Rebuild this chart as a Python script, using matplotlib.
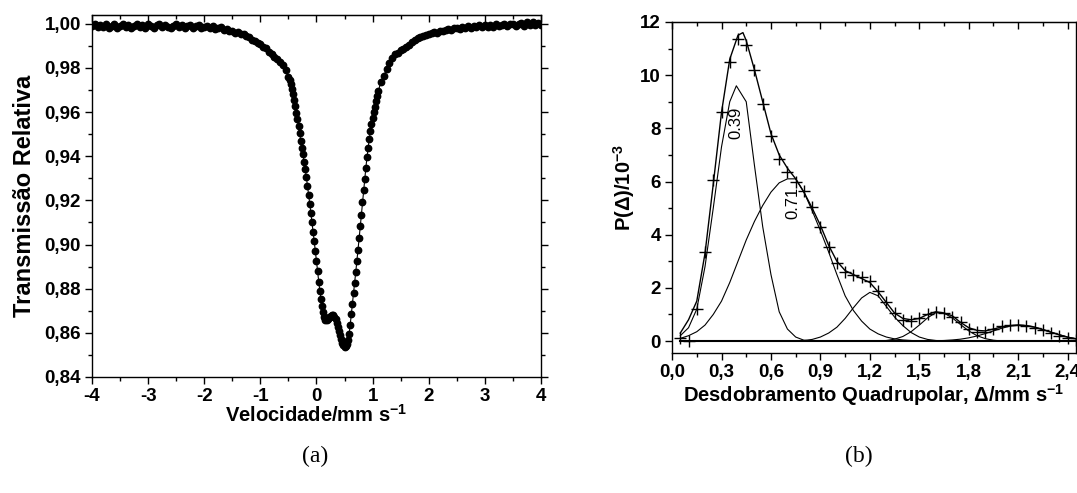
import numpy as np
import matplotlib
matplotlib.use("Agg")
import matplotlib.pyplot as plt
from matplotlib.ticker import MultipleLocator, FuncFormatter

plt.rcParams['font.family'] = ['Liberation Sans', 'DejaVu Sans']
plt.rcParams['mathtext.fontset'] = 'custom'
plt.rcParams['mathtext.rm'] = 'Liberation Sans:bold'
plt.rcParams['mathtext.default'] = 'rm'

# ---- (a) espectro Mossbauer ----
vel_left = np.round(np.arange(-4.0, -0.549, 0.05), 3)
trans_left = [0.9990, 0.9998, 0.9984, 0.9995, 0.9987, 0.9997, 0.9983, 0.9992, 0.9999, 0.9982,
              0.9991, 0.9997, 0.9984, 0.9996, 0.9982, 0.9992, 0.9998, 0.9986, 0.9995, 0.9983,
              0.9997, 0.9989, 0.9981, 0.9993, 0.9999, 0.9984, 0.9995, 0.9987, 0.9980, 0.9991,
              0.9997, 0.9984, 0.9993, 0.9982, 0.9990, 0.9996, 0.9981, 0.9988, 0.9993, 0.9979,
              0.9987, 0.9989, 0.9979, 0.9988, 0.9976, 0.9981, 0.9984, 0.9972, 0.9976, 0.9966,
              0.9969, 0.9960, 0.9961, 0.9952, 0.9955, 0.9944, 0.9940, 0.9928, 0.9924, 0.9913,
              0.9908, 0.9896, 0.9889, 0.9874, 0.9865, 0.9850, 0.9841, 0.9825, 0.9814, 0.9790]

vel_dip = np.round(np.arange(-0.50, 1.101, 0.02), 3)
trans_dip = [0.9760, 0.9745, 0.9727, 0.9705, 0.9682, 0.9656, 0.9627, 0.9598, 0.9568, 0.9537,
             0.9504, 0.9470, 0.9438, 0.9408, 0.9376, 0.9341, 0.9305, 0.9266, 0.9226, 0.9185,
             0.9143, 0.9100, 0.9057, 0.9014, 0.8970, 0.8926, 0.8880, 0.8832, 0.8790, 0.8755,
             0.8722, 0.8695, 0.8672, 0.8660, 0.8656, 0.8662, 0.8670, 0.8674, 0.8678, 0.8681,
             0.8679, 0.8673, 0.8661, 0.8645, 0.8627, 0.8608, 0.8589, 0.8571, 0.8556, 0.8544,
             0.8538, 0.8541, 0.8550, 0.8566, 0.8594, 0.8634, 0.8684, 0.8732, 0.8780, 0.8827,
             0.8876, 0.8926, 0.8976, 0.9028, 0.9082, 0.9136, 0.9192, 0.9246, 0.9297, 0.9348,
             0.9396, 0.9438, 0.9478, 0.9513, 0.9546, 0.9575, 0.9600, 0.9624, 0.9650, 0.9672,
             0.9694]

vel_right = np.round(np.arange(1.15, 4.001, 0.05), 3)
trans_right = [0.9738, 0.9765, 0.9795, 0.9822, 0.9845, 0.9862, 0.9870, 0.9880, 0.9885, 0.9896,
               0.9905, 0.9918, 0.9925, 0.9936, 0.9940, 0.9947, 0.9950, 0.9956, 0.9957, 0.9962,
               0.9958, 0.9967, 0.9966, 0.9974, 0.9976, 0.9970, 0.9980, 0.9983, 0.9976, 0.9987,
               0.9980, 0.9990, 0.9983, 0.9991, 0.9984, 0.9994, 0.9986, 0.9993, 0.9987, 0.9996,
               0.9987, 0.9997, 0.9988, 0.9993, 1.0000, 0.9989, 0.9997, 1.0001, 0.9990, 0.9998,
               1.0003, 0.9992, 1.0006, 0.9995, 1.0007, 0.9996, 1.0003, 0.9996]

vel = np.concatenate([vel_left, vel_dip, vel_right])
trans = np.concatenate([trans_left, trans_dip, trans_right])

# ---- (b) distribuicao de desdobramento quadrupolar ----
delta_exp = [0.05, 0.10, 0.15, 0.20, 0.25, 0.30, 0.35, 0.40, 0.45, 0.50, 0.55, 0.60, 0.65,
             0.70, 0.75, 0.80, 0.85, 0.90, 0.95, 1.00, 1.05, 1.10, 1.15, 1.20, 1.25, 1.30,
             1.35, 1.40, 1.45, 1.50, 1.55, 1.60, 1.65, 1.70, 1.75, 1.80, 1.85, 1.90, 1.95,
             2.00, 2.05, 2.10, 2.15, 2.20, 2.25, 2.30, 2.35, 2.40, 2.45]
p_exp = [0.1, 0.0, 1.2, 3.35, 6.05, 8.6, 10.5, 11.35, 11.15, 10.2, 8.9, 7.7, 6.85,
         6.35, 6.0, 5.65, 5.05, 4.3, 3.55, 2.95, 2.6, 2.5, 2.4, 2.25, 1.9, 1.45,
         1.05, 0.8, 0.75, 0.85, 1.0, 1.1, 1.05, 0.9, 0.7, 0.45, 0.35, 0.35, 0.45,
         0.55, 0.6, 0.6, 0.55, 0.5, 0.4, 0.3, 0.2, 0.1, 0.05]

delta_fit = [0.05, 0.10, 0.15, 0.20, 0.25, 0.30, 0.35, 0.40, 0.43, 0.45, 0.50, 0.55, 0.60,
             0.65, 0.70, 0.75, 0.80, 0.85, 0.90, 0.95, 1.00, 1.05, 1.10, 1.15, 1.20, 1.25,
             1.30, 1.35, 1.40, 1.45, 1.50, 1.55, 1.60, 1.65, 1.70, 1.75, 1.80, 1.85, 1.90,
             1.95, 2.00, 2.05, 2.10, 2.15, 2.20, 2.25, 2.30, 2.35, 2.40, 2.45]
p_fit = [0.3, 0.8, 1.5, 3.3, 5.9, 8.6, 10.6, 11.5, 11.6, 11.3, 10.2, 9.0, 7.8,
         7.0, 6.5, 6.1, 5.6, 5.0, 4.35, 3.6, 3.0, 2.65, 2.5, 2.35, 2.2, 1.85,
         1.45, 1.05, 0.85, 0.8, 0.85, 1.0, 1.1, 1.05, 0.95, 0.7, 0.5, 0.4, 0.38,
         0.45, 0.53, 0.58, 0.6, 0.58, 0.52, 0.43, 0.33, 0.23, 0.14, 0.08]

comp1_x = [0.05, 0.10, 0.15, 0.20, 0.25, 0.30, 0.35, 0.39, 0.45, 0.50, 0.55, 0.60, 0.65, 0.70, 0.75, 0.80, 0.85]
comp1_y = [0.2, 0.5, 1.2, 2.8, 5.0, 7.3, 9.0, 9.6, 9.0, 6.6, 4.3, 2.5, 1.1, 0.45, 0.15, 0.03, 0.0]

comp2_x = [0.05, 0.10, 0.15, 0.20, 0.25, 0.30, 0.35, 0.40, 0.45, 0.50, 0.55, 0.60, 0.65, 0.70, 0.75,
           0.80, 0.85, 0.90, 0.95, 1.00, 1.05, 1.10, 1.15, 1.20, 1.25, 1.30, 1.35, 1.40, 1.45, 1.50]
comp2_y = [0.1, 0.2, 0.35, 0.6, 1.0, 1.5, 2.2, 3.0, 3.8, 4.5, 5.1, 5.6, 5.95, 6.1, 6.1,
           5.6, 4.9, 4.15, 3.35, 2.5, 1.7, 1.15, 0.75, 0.45, 0.27, 0.15, 0.08, 0.04, 0.02, 0.0]

comp3_x = [0.75, 0.80, 0.85, 0.90, 0.95, 1.00, 1.05, 1.10, 1.15, 1.20, 1.25, 1.30, 1.35, 1.40, 1.45, 1.50, 1.55, 1.60, 1.65]
comp3_y = [0.0, 0.02, 0.06, 0.15, 0.3, 0.52, 0.85, 1.25, 1.62, 1.83, 1.7, 1.3, 0.9, 0.58, 0.32, 0.15, 0.06, 0.02, 0.0]

comp4_x = [1.25, 1.30, 1.35, 1.40, 1.45, 1.50, 1.55, 1.60, 1.65, 1.70, 1.75, 1.80, 1.85, 1.90, 1.95, 2.00]
comp4_y = [0.0, 0.02, 0.07, 0.17, 0.35, 0.6, 0.87, 1.07, 1.05, 0.87, 0.62, 0.38, 0.2, 0.09, 0.03, 0.0]

comp5_x = [1.55, 1.60, 1.65, 1.70, 1.75, 1.80, 1.85, 1.90, 1.95, 2.00, 2.05, 2.10, 2.15, 2.20, 2.25, 2.30, 2.35, 2.40, 2.45]
comp5_y = [0.0, 0.01, 0.02, 0.04, 0.07, 0.12, 0.19, 0.28, 0.38, 0.48, 0.56, 0.6, 0.58, 0.52, 0.43, 0.33, 0.24, 0.15, 0.09]

components = [(comp1_x, comp1_y), (comp2_x, comp2_y), (comp3_x, comp3_y),
              (comp4_x, comp4_y), (comp5_x, comp5_y)]


def virgula(fmt):
    return FuncFormatter(lambda v, pos: (fmt % v).replace('.', ','))


def estilo(ax, xmaj, xmin, ymaj, ymin):
    ax.xaxis.set_major_locator(MultipleLocator(xmaj))
    ax.xaxis.set_minor_locator(MultipleLocator(xmin))
    ax.yaxis.set_major_locator(MultipleLocator(ymaj))
    ax.yaxis.set_minor_locator(MultipleLocator(ymin))
    ax.tick_params(which='both', direction='out', top=False, right=True, width=1.0)
    ax.tick_params(which='major', length=5, labelsize=13.5, pad=3)
    ax.tick_params(which='minor', length=3)
    top = ax.secondary_xaxis('top')
    top.xaxis.set_major_locator(MultipleLocator(xmaj))
    top.xaxis.set_minor_locator(MultipleLocator(xmin))
    top.tick_params(which='both', direction='in', labeltop=False, width=1.0)
    top.tick_params(which='major', length=5)
    top.tick_params(which='minor', length=3)
    for s in ax.spines.values():
        s.set_linewidth(1.0)


def negrito(ax):
    for lab in ax.get_xticklabels() + ax.get_yticklabels():
        lab.set_fontweight('bold')


fig = plt.figure(figsize=(10.77, 4.93), dpi=100)

# painel (a)
ax1 = fig.add_axes([0.0854, 0.2353, 0.4169, 0.7343])
ax1.plot(vel, trans, color='black', lw=0.8, marker='o', ms=4.6, mec='black', mfc='black')
ax1.set_xlim(-4, 4)
ax1.set_ylim(0.84, 1.004)
estilo(ax1, 1, 0.5, 0.02, 0.01)
ax1.xaxis.set_major_formatter(virgula('%g'))
ax1.yaxis.set_major_formatter(virgula('%.2f'))
negrito(ax1)
ax1.set_xlabel('Velocidade/mm s$^{-1}$', fontsize=14.5, fontweight='bold', labelpad=-1)
ax1.set_ylabel('Transmissão Relativa', fontsize=17, fontweight='bold', labelpad=6)

# painel (b)
ax2 = fig.add_axes([0.624, 0.284, 0.375, 0.6714])
ax2.plot(delta_exp, np.zeros(len(delta_exp)), color='black', lw=1.5)
for cx, cy in components:
    ax2.plot(cx, cy, color='black', lw=0.8)
ax2.plot(delta_fit, p_fit, color='black', lw=1.0)
ax2.plot(delta_exp, p_exp, ls='none', marker='+', ms=8, mew=1.0, color='black')
ax2.text(0.385, 8.2, '0.39', rotation=90, ha='center', va='center', fontsize=12)
ax2.text(0.73, 5.2, '0.71', rotation=90, ha='center', va='center', fontsize=12)
ax2.set_xlim(0, 2.45)
ax2.set_ylim(-0.45, 12)
estilo(ax2, 0.3, 0.15, 2, 1)
ax2.xaxis.set_major_formatter(virgula('%.1f'))
ax2.yaxis.set_major_formatter(virgula('%g'))
negrito(ax2)
ax2.set_xlabel('Desdobramento Quadrupolar, Δ/mm s$^{-1}$', fontsize=14.5, fontweight='bold', labelpad=1)
ax2.set_ylabel('P(Δ)/10$^{-3}$', fontsize=14.5, fontweight='bold', labelpad=2)

fig.text(0.293, 0.075, '(a)', fontsize=17, family='Liberation Serif', ha='center', va='center')
fig.text(0.797, 0.075, '(b)', fontsize=17, family='Liberation Serif', ha='center', va='center')

fig.savefig('out.png', dpi=100)
